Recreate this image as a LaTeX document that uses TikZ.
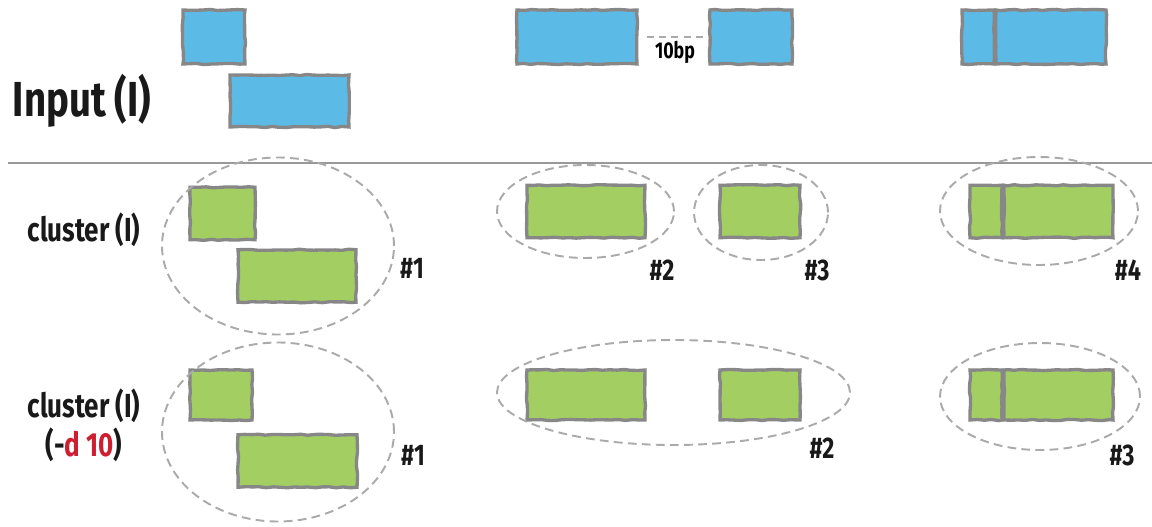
\documentclass[tikz,border=0pt]{standalone}
\usepackage{fontspec}
\newfontfamily\hand[FakeStretch=0.78]{Fira Sans}
\usetikzlibrary{shapes.geometric,decorations.pathmorphing}
\definecolor{bluef}{RGB}{92,186,230}
\definecolor{greenf}{RGB}{163,207,98}
\definecolor{edgeg}{RGB}{135,135,135}
\definecolor{dashg}{RGB}{170,170,170}
\definecolor{redt}{RGB}{205,30,50}
\tikzset{
  seg/.style={draw=edgeg, line width=1.9pt, inner sep=0pt, minimum width=#1*0.02cm,
    decorate, decoration={random steps, segment length=4pt, amplitude=0.35pt}},
  bluebox/.style={seg=#1, fill=bluef, minimum height=1.08cm},
  greenbox/.style={seg=#1, fill=greenf, minimum height=1.05cm},
  clus/.style={ellipse, draw=dashg, dashed, dash pattern=on 5pt off 3pt, line width=1.1pt, inner sep=0pt},
  lab/.style={font=\hand\bfseries\fontsize{17}{18}\selectfont, text=black!90, inner sep=0pt},
  row/.style={font=\hand\bfseries\fontsize{19}{22}\selectfont, text=black!90, inner sep=0pt, align=center},
}
\begin{document}
\begin{tikzpicture}[x=0.02cm,y=-0.02cm]
\useasboundingbox (0,0) rectangle (1152,527);
% ---- input row
\node[bluebox=62] (a) at (214,37) {};
\node[bluebox=119, minimum height=1.04cm] (b) at (289.5,101) {};
\node[bluebox=120] (c) at (577,37) {};
\node[bluebox=82] (d) at (751,37) {};
\node[bluebox=32] (e) at (978,37) {};
\node[bluebox=110] (f) at (1051,37) {};
\draw[dashg, line width=1pt, dash pattern=on 4pt off 3pt, shorten <=8*0.02cm, shorten >=5*0.02cm] (c.east) -- (d.west);
\node[font=\hand\bfseries\fontsize{13}{14}\selectfont, inner sep=0pt] (bp) at (675,52) {10bp};
\node[font=\hand\bfseries\fontsize{28}{30}\selectfont, text=black!90, inner sep=0pt] (inp) at (82,101) {Input (I)};
\coordinate (l0) at (8,163);
\coordinate (l1) at (1152,163);
\draw[black!40, line width=0.6pt] (l0) -- (l1);
% ---- cluster row
\node[row] (r2) at (84,230) {cluster (I)};
\node[greenbox=65] (g1) at (222.5,213.5) {};
\node[greenbox=118] (g2) at (297,276) {};
\node[greenbox=118] (g3) at (586,211.5) {};
\node[greenbox=80] (g4) at (760,211.5) {};
\node[greenbox=32] (g5) at (986,211.5) {};
\node[greenbox=109] (g6) at (1058.5,211.5) {};
\node[clus, minimum width=232*0.02cm, minimum height=177*0.02cm] (e1) at (278,246) {};
\node[clus, minimum width=177*0.02cm, minimum height=93*0.02cm] (e2) at (585.5,211.5) {};
\node[clus, minimum width=134*0.02cm, minimum height=95*0.02cm] (e3) at (761,212.5) {};
\node[clus, minimum width=198*0.02cm, minimum height=108*0.02cm] (e4) at (1039,211) {};
\node[lab] (n1) at (412,268) {\#1};
\node[lab] (n2) at (662,270) {\#2};
\node[lab] (n3) at (817,270) {\#3};
\node[lab] (n4) at (1128,270) {\#4};
% ---- cluster -d 10 row
\node[row] (r3) at (84,425) {cluster (I)\\(-{\color{redt}d 10})};
\node[greenbox=62, minimum height=1.0cm] (h1) at (221,395) {};
\node[greenbox=119] (h2) at (297.5,461) {};
\node[greenbox=118, minimum height=1.0cm] (h3) at (586,395) {};
\node[greenbox=80, minimum height=1.0cm] (h4) at (760,395) {};
\node[greenbox=32, minimum height=1.0cm] (h5) at (986,395) {};
\node[greenbox=109, minimum height=1.0cm] (h6) at (1058.5,395) {};
\node[clus, minimum width=232*0.02cm, minimum height=179*0.02cm] (f1) at (278,432) {};
\node[clus, minimum width=353*0.02cm, minimum height=105*0.02cm] (f2) at (673.5,392.5) {};
\node[clus, minimum width=200*0.02cm, minimum height=107*0.02cm] (f3) at (1040,396.5) {};
\node[lab] (m1) at (413,455) {\#1};
\node[lab] (m2) at (822,448) {\#2};
\node[lab] (m3) at (1122,455) {\#3};
\end{tikzpicture}
\end{document}
